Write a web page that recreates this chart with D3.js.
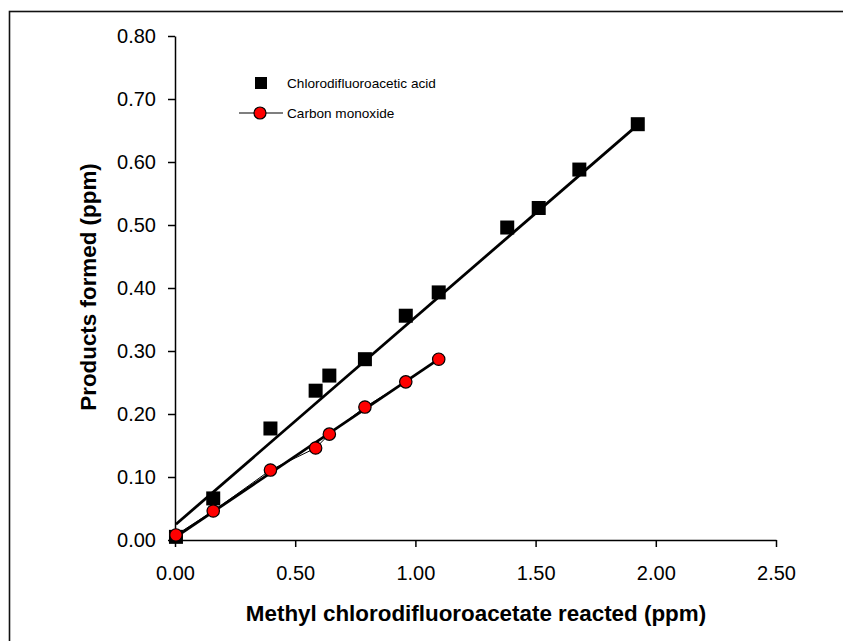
<html>
<head>
<meta charset="utf-8"/>
<script src="https://d3js.org/d3.v7.min.js"></script>
<style>
  body { margin: 0; background: #fff; }
  text { font-family: "Liberation Sans", Arial, sans-serif; }
</style>
</head>
<body>
<script>
// values
var xTicks = [0, 0.5, 1.0, 1.5, 2.0, 2.5];
var yTicks = [0, 0.1, 0.2, 0.3, 0.4, 0.5, 0.6, 0.7, 0.8];

var acidX = [0.004, 0.159, 0.397, 0.585, 0.642, 0.790, 0.960, 1.097, 1.382, 1.513, 1.682, 1.925];
var acidY = [0.005, 0.066, 0.177, 0.237, 0.261, 0.287, 0.356, 0.393, 0.496, 0.527, 0.588, 0.660];

var coX = [0.004, 0.159, 0.397, 0.585, 0.642, 0.790, 0.960, 1.097];
var coY = [0.008, 0.046, 0.111, 0.146, 0.168, 0.211, 0.251, 0.287];

// fitted lines (end points)
var acidFitX = [0.004, 1.925];
var acidFitY = [0.025, 0.659];
var coFitX = [0.004, 1.097];
var coFitY = [0.005, 0.287];

var legendNames = ["Chlorodifluoroacetic acid", "Carbon monoxide"];

var width = 843, height = 641;

var svg = d3.select("body").append("svg")
  .attr("width", width).attr("height", height);

// outer frame (runs off the picture on right and bottom)
svg.append("rect")
  .attr("x", 9.5).attr("y", 11.5)
  .attr("width", 900).attr("height", 700)
  .attr("fill", "none").attr("stroke", "#111").attr("stroke-width", 1.6);

var x = d3.scaleLinear().domain([0, 2.5]).range([175, 776]);
var y = d3.scaleLinear().domain([0, 0.8]).range([540, 36]);

var xAxis = d3.axisBottom(x).tickValues(xTicks).tickFormat(d3.format(".2f"))
  .tickSize(7).tickPadding(19).tickSizeOuter(0);
var yAxis = d3.axisLeft(y).tickValues(yTicks).tickFormat(d3.format(".2f"))
  .tickSize(7).tickPadding(12).tickSizeOuter(0);

var gx = svg.append("g").attr("transform", "translate(0,540)").call(xAxis);
var gy = svg.append("g").attr("transform", "translate(175,0)").call(yAxis);

[gx, gy].forEach(function(g) {
  g.selectAll("path, line").attr("stroke", "#000").attr("stroke-width", 1.5);
  g.selectAll("text").attr("font-size", "20px").attr("fill", "#000")
    .attr("font-family", "Liberation Sans, Arial, sans-serif");
});

// axis titles
svg.append("text")
  .attr("x", 476).attr("y", 613).attr("dy", "0.35em")
  .attr("text-anchor", "middle")
  .attr("font-size", "22.4px").attr("font-weight", "bold")
  .text("Methyl chlorodifluoroacetate reacted (ppm)");

svg.append("text")
  .attr("transform", "translate(88,287) rotate(-90)")
  .attr("dy", "0.35em")
  .attr("text-anchor", "middle")
  .attr("font-size", "22.4px").attr("font-weight", "bold")
  .text("Products formed (ppm)");

var line = d3.line().x(function(d){ return x(d[0]); }).y(function(d){ return y(d[1]); });

var coPts = coX.map(function(v, i){ return [v, coY[i]]; });
var acidPts = acidX.map(function(v, i){ return [v, acidY[i]]; });

// thin connecting line for CO series
svg.append("path").datum(coPts).attr("d", line)
  .attr("fill", "none").attr("stroke", "#000").attr("stroke-width", 1);

// fit lines
svg.append("path").datum(acidFitX.map(function(v, i){ return [v, acidFitY[i]]; }))
  .attr("d", line).attr("fill", "none").attr("stroke", "#000").attr("stroke-width", 2.8);
svg.append("path").datum(coFitX.map(function(v, i){ return [v, coFitY[i]]; }))
  .attr("d", line).attr("fill", "none").attr("stroke", "#000").attr("stroke-width", 2.8);

var sq = 14;
svg.selectAll("rect.acid").data(acidPts).enter().append("rect")
  .attr("class", "acid")
  .attr("x", function(d){ return x(d[0]) - sq/2; })
  .attr("y", function(d){ return y(d[1]) - sq/2; })
  .attr("width", sq).attr("height", sq)
  .attr("fill", "#000");

svg.selectAll("circle.co").data(coPts).enter().append("circle")
  .attr("class", "co")
  .attr("cx", function(d){ return x(d[0]); })
  .attr("cy", function(d){ return y(d[1]); })
  .attr("r", 6.2)
  .attr("fill", "#f00").attr("stroke", "#000").attr("stroke-width", 1.2);

// legend
var lg = svg.append("g");
lg.append("rect").attr("x", 255).attr("y", 77).attr("width", 12).attr("height", 12).attr("fill", "#000");
lg.append("line").attr("x1", 239).attr("x2", 283).attr("y1", 113).attr("y2", 113)
  .attr("stroke", "#000").attr("stroke-width", 1.2);
lg.append("circle").attr("cx", 260).attr("cy", 113).attr("r", 6)
  .attr("fill", "#f00").attr("stroke", "#000").attr("stroke-width", 1.2);
lg.selectAll("text.lg").data(legendNames).enter().append("text")
  .attr("class", "lg")
  .attr("x", 287).attr("y", function(d, i){ return 83 + i * 30; })
  .attr("dy", "0.35em").attr("font-size", "13.6px").attr("fill", "#000")
  .text(function(d){ return d; });
</script>
</body>
</html>
